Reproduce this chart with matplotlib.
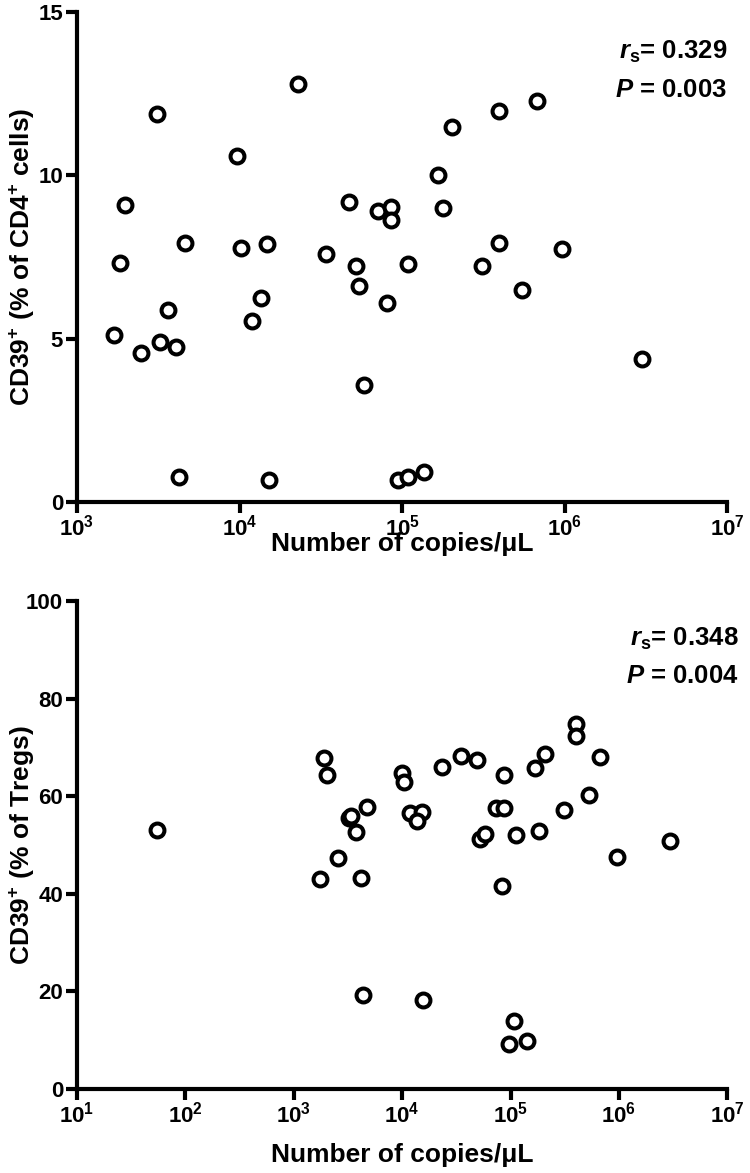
import numpy as np
import matplotlib
matplotlib.use('Agg')
import matplotlib.pyplot as plt
from matplotlib.ticker import FixedLocator, NullLocator

plt.rcParams['font.family'] = ['Liberation Sans', 'DejaVu Sans']
plt.rcParams['font.weight'] = 'bold'
plt.rcParams['mathtext.fontset'] = 'custom'
plt.rcParams['mathtext.rm'] = 'Liberation Sans:bold'
plt.rcParams['mathtext.bf'] = 'Liberation Sans:bold'
plt.rcParams['mathtext.it'] = 'Liberation Sans:italic:bold'
plt.rcParams['mathtext.default'] = 'it'

# top panel: CD39+ (% of CD4+ cells) vs copies/uL
cd4_copies = [22800, 3120, 9700, 1980, 47000, 71000, 85500, 85500, 4640, 10150,
              14700, 34000, 1840, 52000, 109000, 54300, 80800, 3640, 13500, 12000,
              1690, 2480, 3250, 4080, 58000, 4260, 15100, 94500, 109000, 137000,
              671000, 397000, 204000, 167000, 179000, 397000, 957000, 312000, 543000, 2990000]
cd4_pct = [12.8, 11.87, 10.58, 9.08, 9.17, 8.9, 9.02, 8.62, 7.91, 7.76,
           7.88, 7.58, 7.3, 7.21, 7.27, 6.6, 6.1, 5.86, 6.23, 5.55,
           5.12, 4.57, 4.91, 4.75, 3.59, 0.77, 0.67, 0.67, 0.77, 0.92,
           12.27, 11.96, 11.47, 10.0, 8.99, 7.91, 7.73, 7.21, 6.5, 4.39]

# bottom panel: CD39+ (% of Tregs) vs copies/uL
treg_copies = [54.5, 1910, 2040, 10000, 10400, 4760, 3200, 3400, 3770, 2570,
               1760, 4190, 11800, 15200, 13700, 23300, 34800, 48900, 86600, 167000,
               206000, 406000, 406000, 676000, 535000, 309000, 73100, 86600, 52100, 58000,
               112000, 182000, 2980000, 968000, 83000, 4370, 15600, 107000, 96200, 141000]
treg_pct = [53.1, 67.8, 64.3, 64.8, 62.9, 57.8, 55.5, 56.0, 52.7, 47.3,
            43.0, 43.2, 56.6, 56.8, 54.9, 66.0, 68.2, 67.4, 64.3, 65.8,
            68.6, 74.8, 72.3, 68.0, 60.2, 57.2, 57.6, 57.6, 51.2, 52.3,
            52.0, 52.9, 50.8, 47.5, 41.6, 19.3, 18.2, 13.9, 9.2, 9.8]

top_xticks = [1e3, 1e4, 1e5, 1e6, 1e7]
top_xlabels = ['3', '4', '5', '6', '7']
top_yticks = [0, 5, 10, 15]
bot_xticks = [1e1, 1e2, 1e3, 1e4, 1e5, 1e6, 1e7]
bot_xlabels = ['1', '2', '3', '4', '5', '6', '7']
bot_yticks = [0, 20, 40, 60, 80, 100]

fig = plt.figure(figsize=(7.5, 11.73), dpi=100)
ax1 = fig.add_axes([0.1027, 0.572, 0.867, 0.418])
ax2 = fig.add_axes([0.1027, 0.0716, 0.867, 0.416])


def style(ax, xticks, xlabs, yticks, ylim, ylabel, xlab_y):
    ax.set_xscale('log')
    ax.set_xlim(xticks[0], xticks[-1])
    ax.set_ylim(*ylim)
    ax.xaxis.set_major_locator(FixedLocator(xticks))
    ax.xaxis.set_minor_locator(NullLocator())
    ax.set_xticklabels([r'$\mathrm{10^{%s}}$' % e for e in xlabs])
    ax.set_yticks(yticks)
    for s in ['top', 'right']:
        ax.spines[s].set_visible(False)
    for s in ['left', 'bottom']:
        ax.spines[s].set_linewidth(3)
    ax.tick_params(width=3, length=8, labelsize=16)
    ax.tick_params(axis='x', pad=1)
    ax.tick_params(axis='y', pad=2)
    ax.set_xlabel('Number of copies/μL', fontsize=19, fontweight='bold')
    ax.set_ylabel(ylabel, fontsize=19, fontweight='bold')
    ax.xaxis.set_label_coords(0.5, xlab_y)
    ax.yaxis.set_label_coords(-0.062, 0.5)
    for lab in ax.get_yticklabels():
        lab.set_fontweight('bold')


ax1.plot(cd4_copies, cd4_pct, 'o', ms=10, mfc='white', mec='black', mew=2.9, clip_on=False)
style(ax1, top_xticks, top_xlabels, top_yticks, (0, 15),
      r'CD39$^{+}$ (% of CD4$^{+}$ cells)', -0.061)
ax1.text(1.0, 0.904, r'$r_{\mathrm{s}}$= 0.329', transform=ax1.transAxes,
         ha='right', va='baseline', fontsize=18.5, fontweight='bold')
ax1.text(1.0, 0.827, r'$P$ = 0.003', transform=ax1.transAxes,
         ha='right', va='baseline', fontsize=18.5, fontweight='bold')

ax2.plot(treg_copies, treg_pct, 'o', ms=10, mfc='white', mec='black', mew=2.9, clip_on=False)
style(ax2, bot_xticks, bot_xlabels, bot_yticks, (0, 100),
      r'CD39$^{+}$ (% of Tregs)', -0.110)
ax2.text(1.017, 0.908, r'$r_{\mathrm{s}}$= 0.348', transform=ax2.transAxes,
         ha='right', va='baseline', fontsize=18.5, fontweight='bold')
ax2.text(1.017, 0.832, r'$P$ = 0.004', transform=ax2.transAxes,
         ha='right', va='baseline', fontsize=18.5, fontweight='bold')

fig.savefig('out.png', dpi=100)
